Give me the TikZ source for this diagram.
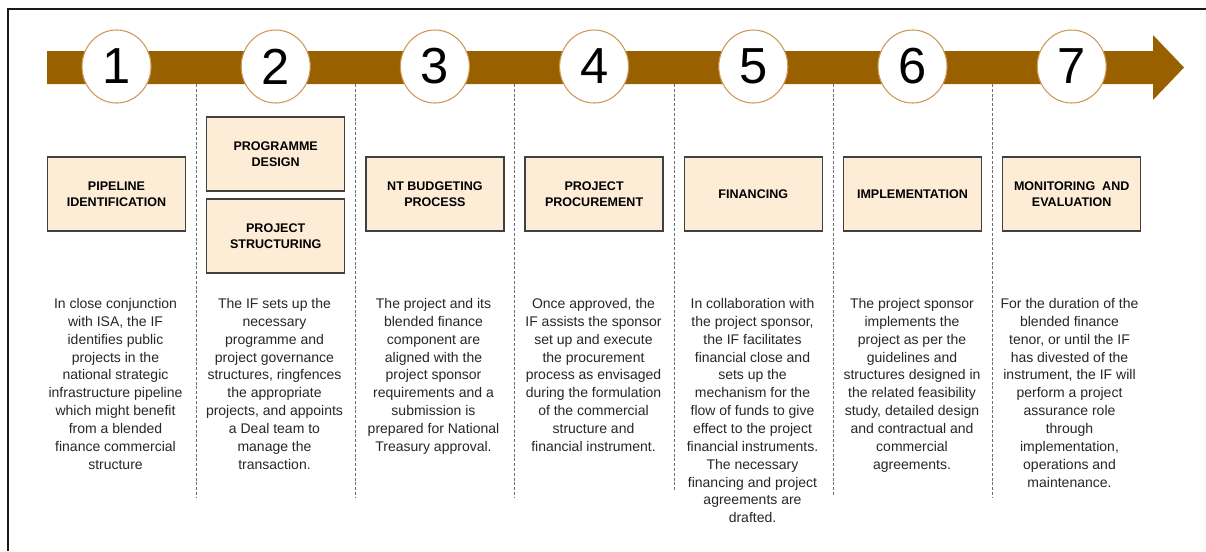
\documentclass[tikz,border=0pt]{standalone}
\usepackage{fontspec}
\setmainfont{Liberation Sans}
\usetikzlibrary{shapes.geometric}
\definecolor{band}{RGB}{153,96,0}
\definecolor{ring}{RGB}{206,152,88}
\definecolor{boxfill}{RGB}{253,236,214}
\definecolor{boxline}{RGB}{64,64,64}
\definecolor{sepcol}{RGB}{110,110,110}
\tikzset{
  numcirc/.style={ellipse, draw=ring, line width=0.8pt, fill=white,
    minimum width=51.75pt, minimum height=54.75pt, inner sep=0pt,
    font=\fontsize{38}{38}\selectfont},
  stepbox/.style={rectangle, draw=boxline, line width=1.1pt, fill=boxfill,
    minimum width=103.5pt, minimum height=55.5pt, inner sep=0pt, align=center,
    font=\bfseries\fontsize{9.4}{12}\selectfont},
  desc/.style={anchor=north, align=center, inner sep=0pt, text=black!85,
    font=\fontsize{10.5}{13.4}\selectfont},
  sepline/.style={draw=sepcol, line width=0.6pt, dash pattern=on 2.2pt off 1.4pt},
  frame/.style={draw=black!90, line width=1.5pt}
}
\begin{document}
\begin{tikzpicture}[x=0.75pt,y=-0.75pt]
\useasboundingbox (0,0) rectangle (1206,551);
\draw[frame] (8,551) -- (8,9) -- (1206,9);
% timeline arrow
\fill[band] (47,51) -- (1153,51) -- (1153,35) -- (1184,67.5) -- (1153,100) -- (1153,84) -- (47,84) -- cycle;
% separators
\foreach \sx/\ey in {196/497, 355/497, 514.5/497, 674/490, 833/495, 992.5/497}
  \draw[sepline] (\sx,84) -- (\sx,\ey);
% number circles
\node[numcirc] (c1) at (116.5,66.5) {1};
\node[numcirc] (c2) at (275.7,66.5) {2};
\node[numcirc] (c3) at (434.9,66.5) {3};
\node[numcirc] (c4) at (594.1,66.5) {4};
\node[numcirc] (c5) at (753.3,66.5) {5};
\node[numcirc] (c6) at (912.5,66.5) {6};
\node[numcirc] (c7) at (1071.7,66.5) {7};
% step boxes
\node[stepbox] (b1) at (116.5,194) {PIPELINE\\IDENTIFICATION};
\node[stepbox] (b2a) at (275.7,154) {PROGRAMME\\DESIGN};
\node[stepbox] (b2b) at (275.7,236) {PROJECT\\STRUCTURING};
\node[stepbox] (b3) at (434.9,194) {NT BUDGETING\\PROCESS};
\node[stepbox] (b4) at (594.1,194) {PROJECT\\PROCUREMENT};
\node[stepbox] (b5) at (753.3,194) {FINANCING};
\node[stepbox] (b6) at (912.5,194) {IMPLEMENTATION};
\node[stepbox] (b7) at (1071.7,194) {MONITORING\ \ AND\\EVALUATION};
% descriptions
\node[desc] (d1) at (115.5,298) {In close conjunction\\with ISA, the IF\\identifies public\\projects in the\\national strategic\\infrastructure pipeline\\which might benefit\\from a blended\\finance commercial\\structure};
\node[desc] (d2) at (274.5,298) {The IF sets up the\\necessary\\programme and\\project governance\\structures, ringfences\\the appropriate\\projects, and appoints\\a Deal team to\\manage the\\transaction.};
\node[desc] (d3) at (433.5,298) {The project and its\\blended finance\\component are\\aligned with the\\project sponsor\\requirements and a\\submission is\\prepared for National\\Treasury approval.};
\node[desc] (d4) at (593.5,298) {Once approved, the\\IF assists the sponsor\\set up and execute\\the procurement\\process as envisaged\\during the formulation\\of the commercial\\structure and\\financial instrument.};
\node[desc] (d5) at (752.5,298) {In collaboration with\\the project sponsor,\\the IF facilitates\\financial close and\\sets up the\\mechanism for the\\flow of funds to give\\effect to the project\\financial instruments.\\The necessary\\financing and project\\agreements are\\drafted.};
\node[desc] (d6) at (912,298) {The project sponsor\\implements the\\project as per the\\guidelines and\\structures designed in\\the related feasibility\\study, detailed design\\and contractual and\\commercial\\agreements.};
\node[desc] (d7) at (1069.5,298) {For the duration of the\\blended finance\\tenor, or until the IF\\has divested of the\\instrument, the IF will\\perform a project\\assurance role\\through\\implementation,\\operations and\\maintenance.};
\end{tikzpicture}
\end{document}
